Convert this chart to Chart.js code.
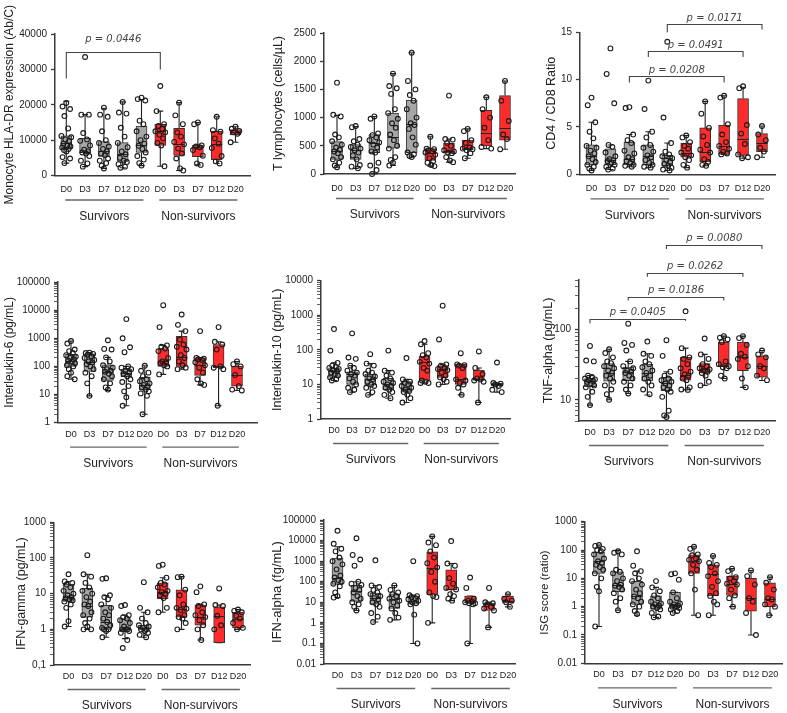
<!DOCTYPE html>
<html>
<head>
<meta charset="utf-8">
<script src="https://cdn.jsdelivr.net/npm/chart.js@4.4.0/dist/chart.umd.min.js"></script>
<style>
  body { margin: 0; background: #fff; }
  #wrap { position: relative; width: 787px; height: 713px; overflow: hidden; }
  canvas { position: absolute; }
</style>
</head>
<body>
<div id="wrap"></div>
<script>
const days = ['D0', 'D3', 'D7', 'D12', 'D20', 'D0', 'D3', 'D7', 'D12', 'D20'];
const groups = ['Survivors', 'Non-survivors'];

// box stats per category: [whisker low, q1, median, q3, whisker high]
const hladrBox = [
  [3500, 7500, 9200, 11200, 21000], [2500, 6500, 6600, 10500, 17200], [2000, 5400, 6800, 9600, 19000],
  [2200, 4000, 6000, 9300, 20800], [2800, 6500, 8600, 14000, 21500], [2600, 8500, 12500, 14500, 18200],
  [1400, 5700, 8800, 13300, 20600], [3000, 5300, 8000, 8500, 15000], [3400, 4500, 9000, 12500, 16600],
  [9400, 11500, 12200, 13000, 13800]
];
const hladrPts = [
  [20500, 19500, 18800, 16800, 13300, 11200, 10800, 10200, 9800, 9000, 8500, 8200, 7900, 7500, 7200, 6800, 5200, 4800, 3500],
  [33500, 17200, 17200, 12000, 10200, 9800, 8500, 7300, 6800, 6500, 6200, 5500, 4200, 3400, 2500],
  [19200, 17200, 16600, 12500, 10000, 9200, 8200, 7500, 6800, 6200, 5800, 4800, 4200, 3500, 2800, 2000],
  [20800, 17800, 17500, 13500, 11000, 9200, 8000, 6800, 6000, 5000, 4200, 3800, 3200, 2500, 2200],
  [22000, 21600, 21200, 15500, 14500, 12500, 11000, 10000, 9000, 8400, 7500, 6500, 5500, 4500, 3500, 2800],
  [25300, 18200, 14500, 14000, 13200, 12500, 12200, 11500, 10500, 9200, 8500, 2600],
  [20600, 17000, 14500, 12200, 11000, 9500, 8800, 7600, 6200, 4800, 2000, 1400],
  [15000, 14500, 8500, 8200, 8000, 7200, 5600, 3400, 3000],
  [16600, 12800, 12400, 10500, 9000, 7800, 5500, 4000, 3400],
  [13800, 13200, 12600, 12200, 11800, 9400]
];
const hladrTicks = [0, 10000, 20000, 30000, 40000];
const hladrTickLabels = ['0', '10000', '20000', '30000', '40000'];
const hladrP = [{ from: 0, to: 5, top: 35000, legs: [27400, 30000], text: 'p = 0.0446' }];

const lymphBox = [
  [120, 260, 415, 575, 1040], [100, 260, 420, 520, 840], [0, 380, 545, 700, 1020], [150, 460, 660, 1080, 1780],
  [300, 380, 880, 1310, 2150], [140, 240, 370, 450, 660], [210, 370, 400, 550, 620], [280, 440, 450, 600, 800],
  [450, 500, 730, 1130, 1360], [440, 600, 820, 1390, 1650]
];
const lymphPts = [
  [1620, 1050, 1020, 700, 650, 580, 520, 470, 430, 400, 370, 300, 260, 200, 150, 120],
  [850, 830, 620, 580, 520, 480, 450, 420, 380, 330, 260, 160, 130, 100],
  [1020, 980, 720, 690, 650, 600, 560, 520, 470, 400, 380, 200, 150, 70, 0],
  [1780, 1560, 1520, 1420, 1150, 1080, 980, 900, 820, 700, 600, 500, 450, 300, 250, 200, 150],
  [2150, 1650, 1500, 1400, 1300, 1150, 1000, 900, 870, 800, 650, 520, 380, 350, 320, 300],
  [660, 450, 440, 420, 400, 380, 340, 280, 230, 200, 160, 140],
  [1390, 620, 610, 550, 500, 420, 400, 380, 370, 300, 240, 210],
  [800, 760, 600, 550, 470, 450, 440, 420, 370, 280],
  [1360, 1150, 1000, 820, 600, 480, 450],
  [1650, 1300, 940, 700, 620, 440]
];
const lymphTicks = [0, 500, 1000, 1500, 2000, 2500];
const lymphTickLabels = ['0', '500', '1000', '1500', '2000', '2500'];

const cd48Box = [
  [0.4, 1.0, 1.9, 3.1, 5.5], [0.5, 1.0, 1.5, 2.7, 3.1], [0.8, 1.0, 1.6, 3.4, 4.2], [0.7, 1.0, 1.9, 3.1, 4.5],
  [0.4, 0.9, 1.7, 2.0, 3.3], [0.7, 1.8, 2.3, 3.3, 4.1], [0.9, 1.3, 2.4, 4.9, 7.7], [2.1, 2.1, 3.0, 5.2, 8.3],
  [1.7, 2.0, 3.7, 8.0, 9.2], [1.8, 2.4, 3.3, 4.3, 5.1]
];
const cd48Pts = [
  [8.1, 7.3, 5.5, 4.5, 3.8, 3.0, 2.8, 2.5, 2.2, 1.9, 1.6, 1.3, 1.0, 0.8, 0.6, 0.4],
  [13.3, 10.6, 7.5, 3.1, 2.9, 2.3, 1.9, 1.6, 1.5, 1.4, 1.2, 1.0, 0.8, 0.6, 0.5],
  [7.1, 7.0, 4.2, 3.6, 3.3, 2.5, 2.2, 1.8, 1.6, 1.4, 1.2, 1.0, 0.9, 0.8],
  [9.9, 6.9, 4.5, 3.9, 3.1, 2.8, 2.4, 2.0, 1.8, 1.5, 1.2, 1.0, 0.8, 0.7],
  [14.0, 6.0, 3.3, 2.4, 2.1, 1.9, 1.7, 1.5, 1.3, 1.1, 0.9, 0.7, 0.5, 0.4],
  [4.1, 3.9, 3.4, 3.0, 2.7, 2.3, 2.0, 1.8, 1.5, 1.0, 0.7],
  [7.7, 6.4, 4.9, 4.0, 3.1, 2.6, 2.3, 1.6, 1.3, 1.0, 0.9],
  [8.3, 8.1, 5.3, 4.2, 3.4, 3.0, 2.7, 2.4, 2.2, 2.1],
  [9.3, 9.1, 5.2, 4.3, 3.2, 2.1, 1.8, 1.7],
  [5.1, 4.2, 3.6, 2.8, 2.4, 1.8]
];
const cd48Ticks = [0, 5, 10, 15];
const cd48TickLabels = ['0', '5', '10', '15'];
const cd48P = [
  { from: 2, to: 7, top: 10.35, legs: [9.7, 9.7], text: 'p = 0.0208' },
  { from: 3, to: 8, top: 13.05, legs: [12.4, 12.4], text: 'p = 0.0491' },
  { from: 4, to: 9, top: 15.85, legs: [15.0, 15.3], text: 'p = 0.0171' }
];

const il6Box = [
  [35, 100, 155, 270, 800], [9, 66, 140, 280, 310], [14, 32, 65, 115, 210], [4, 43, 57, 80, 100],
  [2, 15, 21, 41, 105], [52, 100, 150, 430, 560], [80, 100, 215, 1170, 1800], [22, 48, 110, 200, 200],
  [4, 90, 100, 600, 750], [14, 20, 50, 100, 150]
];
const il6Pts = [
  [800, 650, 400, 350, 300, 250, 220, 200, 180, 160, 150, 130, 110, 100, 80, 60, 45, 35],
  [310, 300, 280, 260, 230, 200, 170, 150, 140, 120, 100, 80, 60, 45, 25, 9],
  [850, 420, 400, 210, 150, 110, 90, 80, 70, 65, 55, 45, 35, 25, 18, 15],
  [4800, 1000, 480, 320, 100, 90, 80, 70, 60, 55, 45, 35, 28, 20, 13, 8, 4],
  [105, 70, 60, 45, 35, 30, 25, 22, 20, 18, 15, 13, 11, 9, 2],
  [15000, 2500, 560, 500, 430, 350, 200, 150, 140, 130, 110, 100, 52],
  [7000, 3000, 1800, 900, 600, 500, 400, 250, 200, 150, 110, 90, 80],
  [1800, 200, 190, 180, 170, 140, 110, 90, 60, 35, 25, 22],
  [2500, 750, 600, 400, 100, 90, 80, 4],
  [150, 120, 100, 50, 20, 15, 14]
];
const il6Ticks = [1, 10, 100, 1000, 10000, 100000];
const il6TickLabels = ['1', '10', '100', '1000', '10000', '100000'];

const il10Box = [
  [13, 16, 24, 30, 42], [6, 10, 20, 23, 35], [5, 9.5, 14, 20, 40], [4, 7, 10, 15, 25],
  [3, 6, 7.5, 12, 14], [11, 13, 44, 66, 145], [10, 16, 28, 35, 38], [5, 10, 14, 38, 38],
  [3, 13, 14, 26, 30], [6, 9, 10, 11, 11]
];
const il10Pts = [
  [400, 95, 42, 35, 32, 30, 28, 26, 24, 22, 20, 18, 16, 14, 13],
  [300, 60, 55, 35, 30, 25, 22, 20, 18, 15, 12, 10, 8, 7, 6],
  [75, 40, 35, 25, 22, 20, 17, 15, 14, 12, 10, 9, 8, 6, 5],
  [95, 25, 22, 18, 15, 12, 11, 10, 9, 8, 7, 6, 5, 4],
  [58, 14, 12, 11, 10, 9, 8, 7, 6.5, 6, 5, 4, 3],
  [180, 145, 80, 70, 60, 45, 40, 30, 25, 13, 12, 11, 11],
  [1900, 200, 38, 35, 30, 28, 26, 22, 18, 16, 14, 12, 10],
  [80, 38, 36, 35, 30, 14, 13, 11, 10, 8, 5],
  [90, 30, 20, 15, 14, 13, 12, 3],
  [43, 11, 10.5, 10, 9, 7, 6]
];
const il10Ticks = [1, 10, 100, 1000, 10000];
const il10TickLabels = ['1', '10', '100', '1000', '10000'];

const tnfBox = [
  [8.4, 15.4, 18.5, 20, 22], [10, 18.3, 23.8, 32.5, 52], [12.3, 18.7, 25, 29, 35], [11.7, 18.5, 24, 32, 45],
  [5.7, 13.5, 17.5, 21, 25], [13.8, 19, 22.5, 40, 54], [16, 24, 27.5, 32.5, 44], [20, 30, 30.5, 66, 80],
  [15, 25.8, 41, 66, 80], [18.8, 21, 30, 42, 50]
];
const tnfPts = [
  [58, 36, 35, 22, 21, 20, 19.5, 19, 18.5, 18, 17, 16, 15, 13, 11, 8.4],
  [52, 46, 40, 35, 33, 30, 28, 26, 24, 22, 20, 18, 16, 14, 12, 10],
  [120, 64, 60, 50, 35, 30, 28, 26, 25, 24, 22, 20, 18, 16, 14, 12.3],
  [67, 45, 42, 35, 32, 29, 26, 24, 22, 20, 18, 16, 14, 12],
  [70, 42, 25, 22, 20, 19, 18, 17, 16, 15, 14, 13, 11, 7, 6, 5.7],
  [180, 54, 40, 38, 32, 28, 25, 23, 22, 20, 19, 15, 14, 13.8],
  [74, 44, 38, 32, 30, 28, 27, 26, 25, 24, 22, 18, 16],
  [80, 76, 72, 66, 35, 32, 30, 29, 28, 22, 20],
  [80, 75, 60, 45, 41, 38, 30, 20, 15],
  [50, 44, 40, 30, 28, 22, 19]
];
const tnfTicks = [10, 100];
const tnfTickLabels = ['10', '100'];
const tnfP = [
  { from: 0, to: 5, top: 139, legs: [122, 132], text: 'p = 0.0405' },
  { from: 2, to: 7, top: 291, legs: [255, 255], text: 'p = 0.0186' },
  { from: 3, to: 8, top: 637, legs: [558, 558], text: 'p = 0.0262' },
  { from: 4, to: 9, top: 1570, legs: [1380, 1380], text: 'p = 0.0080' }
];

const ifngBox = [
  [1.2, 6.1, 8.2, 18.6, 22], [1.0, 2.2, 4.6, 14, 35], [0.6, 1.0, 1.6, 4.7, 8.8], [0.55, 1.0, 1.0, 2.0, 2.5],
  [0.6, 1.0, 1.1, 1.3, 3.0], [3.0, 7.2, 11, 20, 28], [1.0, 2.2, 3.8, 12.7, 30], [0.5, 1.3, 2.2, 4.8, 5],
  [0.42, 0.42, 2.4, 4.3, 4.8], [1.0, 1.1, 2.0, 3.0, 3.6]
];
const ifngPts = [
  [35, 22, 20, 18, 15, 12, 10, 9, 8, 7.5, 7, 6.5, 6, 5, 4, 1.7, 1.2],
  [120, 35, 30, 20, 15, 12, 10, 8, 6, 5, 4.5, 3, 2.5, 2, 1.5, 1.2, 1, 1],
  [27, 26, 9, 8, 7, 5, 4, 3, 2.5, 2, 1.6, 1.3, 1.1, 1, 1, 0.9, 0.6],
  [4.8, 4.5, 2.5, 2.2, 2, 1.8, 1.5, 1.2, 1, 1, 1, 0.9, 0.8, 0.5, 0.3],
  [21, 4, 3, 2, 1.5, 1.3, 1.2, 1.1, 1, 1, 0.9, 0.8, 0.7, 0.6],
  [65, 60, 28, 20, 18, 15, 12, 11, 10, 9, 7.5, 4, 3],
  [30, 29, 13, 9, 5, 4, 3.8, 3.5, 2.5, 2.2, 2, 1.5, 1],
  [16, 11, 5, 4.5, 3, 2.5, 2.2, 1.8, 1.3, 1, 0.5],
  [14, 4.8, 4.5, 2.4, 1.3, 1],
  [3.6, 3.3, 3, 2.4, 2, 1.5, 1.1, 1]
];
const ifngTicks = [0.1, 1, 10, 100, 1000];
const ifngTickLabels = ['0,1', '1', '10', '100', '1000'];

const ifnaBox = [
  [17, 74, 160, 1400, 5000], [4, 11, 36, 66, 100], [1.1, 8, 16, 28, 66], [1.4, 5, 15, 26, 66],
  [0.1, 8, 12, 20, 22], [1, 24, 470, 2800, 16000], [12, 40, 42, 380, 770], [0.1, 9, 10, 20, 20],
  [0.6, 4, 8, 9, 10], [6, 9, 12, 20, 25]
];
const ifnaPts = [
  [30000, 7000, 4000, 3000, 1500, 1000, 700, 400, 200, 160, 120, 100, 80, 60, 30, 20, 17],
  [13000, 2000, 1200, 600, 100, 80, 70, 50, 40, 30, 20, 15, 10, 8, 6, 4],
  [1100, 66, 55, 40, 30, 25, 20, 16, 14, 10, 8, 6, 3, 2, 1.1],
  [66, 40, 30, 25, 20, 15, 12, 10, 7, 5, 3, 1.8, 1.4],
  [1000, 22, 20, 18, 16, 14, 12, 10, 9, 8, 2.5, 0.1],
  [16000, 8000, 6000, 3000, 1500, 800, 500, 300, 100, 30, 20, 18, 1],
  [9500, 770, 600, 150, 80, 50, 42, 25, 20, 15, 12],
  [160, 50, 15, 12, 11, 10, 9, 9, 8, 0.1],
  [50, 10, 9, 8, 6, 5, 4, 0.6],
  [25, 15, 12, 10, 6]
];
const ifnaTicks = [0.01, 0.1, 1, 10, 100, 1000, 10000, 100000];
const ifnaTickLabels = ['0.01', '0.1', '1', '10', '100', '1000', '10000', '100000'];

const isgBox = [
  [0.2, 15, 40, 83, 150], [0.75, 3.4, 5.8, 17, 95], [0.5, 1.2, 2.3, 7.8, 18], [0.42, 0.82, 1.15, 2.4, 4.8],
  [0.6, 0.95, 1.15, 3.2, 3.2], [0.5, 15, 40, 68, 130], [0.5, 2.4, 14.5, 30, 62], [1, 2.5, 6.5, 12, 22],
  [0.1, 0.7, 2, 10, 19], [0.5, 1, 1.8, 7, 11]
];
const isgPts = [
  [150, 140, 110, 100, 90, 70, 50, 40, 35, 30, 25, 20, 15, 10, 5, 3.5, 0.2],
  [90, 80, 70, 20, 17, 15, 10, 8, 6, 5.5, 5, 4, 3, 2, 1.5, 0.75],
  [90, 28, 18, 15, 10, 8, 6, 4, 3, 2.3, 2, 1.5, 1.2, 1, 0.7, 0.55],
  [8, 4.8, 3.5, 2.5, 2, 1.5, 1.3, 1.2, 1.1, 1, 0.9, 0.8, 0.6, 0.45, 0.42],
  [15, 14, 9, 3.2, 2, 1.5, 1.3, 1.2, 1.1, 1, 1, 0.9, 0.8, 0.7, 0.6],
  [130, 110, 70, 65, 50, 45, 40, 30, 20, 15, 4, 0.5],
  [62, 35, 30, 25, 15, 12, 8, 5, 3, 2.4, 1.5, 1.2, 0.5],
  [22, 18, 11, 10, 8, 6.5, 6, 4, 2.5, 2, 1],
  [19, 12, 6, 2, 1.5, 0.6, 0.1],
  [11, 7, 4, 2, 1.8, 1.2, 1, 0.5]
];
const isgTicks = [0.01, 0.1, 1, 10, 100, 1000];
const isgTickLabels = ['0.01', '0.1', '1', '10', '100', '1000'];

// horizontal spread of the dots inside a category
const JITTER = [0, -0.2, 0.2, -0.1, 0.1, -0.26, 0.26, -0.05, 0.15, -0.15, 0.05, 0.22, -0.22, 0.12, -0.12];
const GREY = '#a6a6a6';
const RED = '#ff2b2b';

// page geometry of each plot area: L/R = axis ends, T/B = y max/min, d0/d20 = first/last box centre
const panels = [
  { title: 'Monocyte HLA-DR expression (Ab/C)', box: hladrBox, pts: hladrPts, log: false, min: 0, max: 40000,
    ticks: hladrTicks, labels: hladrTickLabels, brackets: hladrP, gap: 13,
    g: { L: 55, R: 250, T: 34, B: 175.5, d0: 66.3, d20: 235.5, titleX: 10, tf: 12, lab: 15 } },
  { title: 'T lymphocytes (cells/\u00b5L)', box: lymphBox, pts: lymphPts, log: false, min: 0, max: 2500,
    ticks: lymphTicks, labels: lymphTickLabels, brackets: [], gap: 7,
    g: { L: 324, R: 515, T: 33, B: 174, d0: 337, d20: 505, titleX: 279, tf: 12.5, lab: 15 } },
  { title: 'CD4 / CD8 Ratio', box: cd48Box, pts: cd48Pts, log: false, min: 0, max: 15,
    ticks: cd48Ticks, labels: cd48TickLabels, brackets: cd48P, gap: 6,
    g: { L: 580, R: 775, T: 32.3, B: 174.3, d0: 591.5, d20: 762, titleX: 552, tf: 12.5, lab: 15 } },
  { title: 'Interleukin-6 (pg/mL)', box: il6Box, pts: il6Pts, log: true, min: 1, max: 100000,
    ticks: il6Ticks, labels: il6TickLabels, brackets: [], gap: 7,
    g: { L: 58, R: 257, T: 282, B: 422.7, d0: 71, d20: 237, titleX: 10, tf: 12, lab: 12 } },
  { title: 'Interleukin-10 (pg/mL)', box: il10Box, pts: il10Pts, log: true, min: 1, max: 10000,
    ticks: il10Ticks, labels: il10TickLabels, brackets: [], gap: 7,
    g: { L: 321, R: 510, T: 280.7, B: 419, d0: 334, d20: 497, titleX: 278, tf: 12.5, lab: 12 } },
  { title: 'TNF-alpha (pg/mL)', box: tnfBox, pts: tnfPts, log: true, min: 5, max: 500,
    ticks: tnfTicks, labels: tnfTickLabels, brackets: tnfP, gap: 7,
    g: { L: 579, R: 775, T: 280, B: 421, d0: 590, d20: 762, titleX: 549, tf: 12.5, lab: 12 } },
  { title: 'IFN-gamma (pg/mL)', box: ifngBox, pts: ifngPts, log: true, min: 0.1, max: 1000,
    ticks: ifngTicks, labels: ifngTickLabels, brackets: [], gap: 7,
    g: { L: 54, R: 250, T: 522.3, B: 665, d0: 68.5, d20: 238, titleX: 22, tf: 12.5, lab: 12 } },
  { title: 'IFN-alpha (fg/mL)', box: ifnaBox, pts: ifnaPts, log: true, min: 0.01, max: 100000,
    ticks: ifnaTicks, labels: ifnaTickLabels, brackets: [], gap: 7,
    g: { L: 324, R: 515, T: 520, B: 664, d0: 337.5, d20: 508, titleX: 277, tf: 13, lab: 12 } },
  { title: 'ISG score (ratio)', box: isgBox, pts: isgPts, log: true, min: 0.01, max: 1000,
    ticks: isgTicks, labels: isgTickLabels, brackets: [], gap: 7,
    g: { L: 585, R: 782, T: 521.7, B: 663.3, d0: 599, d20: 770, titleX: 545, tf: 11.5, lab: 12 } }
];

Chart.defaults.font.family = '"Liberation Sans", Arial, sans-serif';
Chart.defaults.color = '#222';

function boxPlugin(p) {
  return {
    id: 'boxParts',
    beforeDatasetsDraw(chart) {
      const { ctx, scales: { x, y } } = chart;
      ctx.save();
      ctx.strokeStyle = '#222';
      ctx.lineWidth = 1.1;
      p.box.forEach((s, i) => {
        const px = x.getPixelForValue(i);
        const lo = y.getPixelForValue(s[0]), q1 = y.getPixelForValue(s[1]);
        const q3 = y.getPixelForValue(s[3]), hi = y.getPixelForValue(s[4]);
        ctx.beginPath();
        ctx.moveTo(px, lo); ctx.lineTo(px, q1);
        ctx.moveTo(px, q3); ctx.lineTo(px, hi);
        ctx.moveTo(px - 3, lo); ctx.lineTo(px + 3, lo);
        ctx.moveTo(px - 3, hi); ctx.lineTo(px + 3, hi);
        ctx.stroke();
      });
      ctx.restore();
    },
    afterDatasetDraw(chart, args) {
      if (args.index !== 0) return;
      const { ctx, scales: { x, y } } = chart;
      ctx.save();
      ctx.strokeStyle = '#222';
      ctx.lineWidth = 1;
      p.box.forEach((s, i) => {
        const px = x.getPixelForValue(i);
        const m = Math.round(y.getPixelForValue(s[2])) + 0.5;
        ctx.beginPath();
        ctx.moveTo(px - 5.5, m); ctx.lineTo(px + 5.5, m);
        ctx.stroke();
      });
      ctx.restore();
    },
    afterDraw(chart) {
      const { ctx, chartArea, scales: { x, y } } = chart;
      ctx.save();
      // group underlines and names
      const yl = chartArea.bottom + 24.5;
      ctx.strokeStyle = '#666';
      ctx.lineWidth = 1.3;
      ctx.fillStyle = '#222';
      ctx.font = '12px "Liberation Sans", Arial, sans-serif';
      ctx.textAlign = 'center';
      ctx.textBaseline = 'middle';
      [[0, 4], [5, 9]].forEach((r, k) => {
        const a = x.getPixelForValue(r[0] - 0.05), b = x.getPixelForValue(r[1] + 0.1);
        ctx.beginPath();
        ctx.moveTo(a, yl); ctx.lineTo(b, yl);
        ctx.stroke();
        ctx.fillText(groups[k], (a + b) / 2, chartArea.bottom + 41);
      });
      // significance brackets
      ctx.strokeStyle = '#444';
      ctx.lineWidth = 1.1;
      ctx.fillStyle = '#444';
      ctx.font = 'italic 10px "DejaVu Sans", Verdana, sans-serif';
      p.brackets.forEach(br => {
        const a = x.getPixelForValue(br.from), b = x.getPixelForValue(br.to);
        const t = Math.round(y.getPixelForValue(br.top)) + 0.5;
        ctx.beginPath();
        ctx.moveTo(a, y.getPixelForValue(br.legs[0]));
        ctx.lineTo(a, t); ctx.lineTo(b, t);
        ctx.lineTo(b, y.getPixelForValue(br.legs[1]));
        ctx.stroke();
        ctx.fillText(br.text, (a + b) / 2, t - p.gap);
      });
      ctx.restore();
    }
  };
}

function logTicks(p) {
  const out = [];
  const e0 = Math.floor(Math.log10(p.min) + 1e-9);
  const e1 = Math.ceil(Math.log10(p.max) - 1e-9);
  for (let e = e0; e <= e1; e++) {
    for (let m = 1; m <= 9; m++) {
      const v = parseFloat((m * Math.pow(10, e)).toPrecision(6));
      if (v < p.min * 0.999 || v > p.max * 1.001) continue;
      const k = p.ticks.findIndex(t => Math.abs(t - v) < v * 1e-6);
      out.push({ value: v, lbl: k >= 0 ? p.labels[k] : '', major: k >= 0 });
    }
  }
  return out;
}

const wrap = document.getElementById('wrap');
panels.forEach(p => {
  const g = p.g;
  const lh = g.tf * 1.2;
  const cx = Math.floor(g.titleX - lh / 2 - 2);
  const cy = Math.floor(g.T - 60);
  const cw = Math.ceil(g.R + 8 - cx);
  const ch = Math.ceil(g.B + 55 - cy);
  const canvas = document.createElement('canvas');
  canvas.width = cw; canvas.height = ch;
  canvas.style.left = cx + 'px'; canvas.style.top = cy + 'px';
  canvas.style.width = cw + 'px'; canvas.style.height = ch + 'px';
  wrap.appendChild(canvas);

  const sp = (g.d20 - g.d0) / 9;
  const xMin = -(g.d0 - g.L) / sp;
  const xMax = 9 + (g.R - g.d20) / sp;
  const yWidth = g.L - (g.titleX - lh / 2);
  const padLeft = (g.titleX - lh / 2) - cx;
  const padTop = g.T - cy;
  const padRight = cx + cw - g.R;
  const padBottom = (cy + ch) - g.B - 50;

  const boxData = p.box.map((s, i) => ({ x: i, y: [s[1], s[3]] }));
  const ptData = [];
  p.pts.forEach((arr, i) => arr.forEach((v, j) => ptData.push({ x: i + JITTER[j % JITTER.length], y: v })));

  new Chart(canvas.getContext('2d'), {
    type: 'bar',
    data: {
      datasets: [
        {
          data: boxData,
          backgroundColor: p.box.map((_, i) => i < 5 ? GREY : RED),
          borderColor: '#333',
          borderWidth: 1,
          borderSkipped: false,
          barThickness: 11,
          clip: false,
          order: 2
        },
        {
          type: 'scatter',
          data: ptData,
          pointRadius: 2.4,
          pointBorderWidth: 1.1,
          pointBorderColor: '#1a1a1a',
          pointBackgroundColor: 'rgba(255,255,255,0)',
          clip: false,
          order: 1
        }
      ]
    },
    options: {
      responsive: false,
      animation: false,
      events: [],
      layout: { padding: { left: padLeft, top: padTop, right: padRight, bottom: padBottom } },
      plugins: { legend: { display: false }, tooltip: { enabled: false } },
      scales: {
        x: {
          type: 'linear',
          min: xMin,
          max: xMax,
          offset: false,
          afterBuildTicks: s => { s.ticks = days.map((_, i) => ({ value: i })); },
          afterFit: s => { s.height = 50; },
          ticks: {
            autoSkip: false,
            maxRotation: 0,
            padding: g.lab - 6,
            font: { size: 9 },
            color: '#222',
            callback: (v, i) => days[i]
          },
          grid: { display: false, drawTicks: false },
          border: { color: '#3a3a3a', width: 1.5 }
        },
        y: {
          type: p.log ? 'logarithmic' : 'linear',
          min: p.min,
          max: p.max,
          afterBuildTicks: s => {
            s.ticks = p.log ? logTicks(p)
              : p.ticks.map((v, k) => ({ value: v, lbl: p.labels[k], major: true }));
          },
          afterFit: s => { s.width = yWidth; },
          ticks: {
            autoSkip: false,
            padding: 4,
            font: { size: 10 },
            color: '#222',
            callback: (v, i, t) => t[i].lbl
          },
          grid: {
            drawOnChartArea: false,
            drawTicks: true,
            tickLength: 4,
            tickColor: '#3a3a3a',
            tickWidth: c => (c.tick && c.tick.major) ? 1.3 : 0.8
          },
          border: { color: '#3a3a3a', width: 1.5 },
          title: {
            display: true,
            text: p.title,
            color: '#222',
            padding: 0,
            font: { size: g.tf }
          }
        }
      }
    },
    plugins: [boxPlugin(p)]
  });
});
</script>
</body>
</html>
